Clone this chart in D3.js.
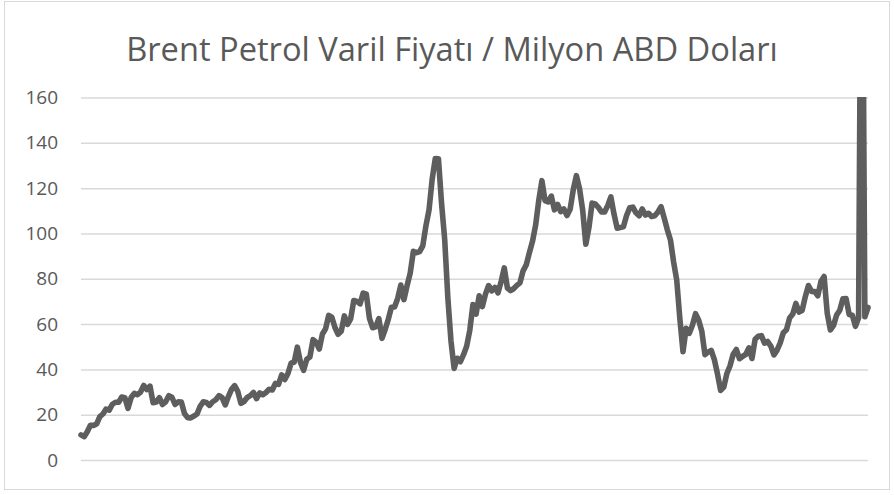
<!DOCTYPE html>
<html>
<head>
<meta charset="utf-8">
<script src="https://cdn.jsdelivr.net/npm/d3@7"></script>
<style>
  html, body { margin: 0; padding: 0; background: #fff; }
  svg { display: block; }
</style>
</head>
<body>
<svg id="chart" width="894" height="495"></svg>
<script>
// data: monthly Brent, Jan 1999 - Dec 2019 (one bad value in Oct 2019, off the scale)
const startYear = 1999;
const brent = [
  11.1, 10.3, 12.5, 15.3, 15.3, 15.9, 19.1, 20.3, 22.5, 22.0, 24.6, 25.5,   // 1999
  25.5, 27.8, 27.5, 22.8, 27.6, 29.4, 28.8, 30.0, 32.9, 31.1, 32.6, 25.3,   // 2000
  25.6, 27.5, 24.5, 25.7, 28.4, 27.7, 24.5, 25.7, 25.6, 20.5, 18.7, 18.6,   // 2001
  19.4, 20.3, 23.7, 25.7, 25.4, 24.1, 25.7, 26.6, 28.4, 27.5, 24.3, 28.0,   // 2002
  31.2, 32.8, 30.3, 25.0, 25.8, 27.6, 28.4, 29.8, 27.1, 29.6, 28.8, 29.8,   // 2003
  31.2, 30.9, 33.8, 33.4, 37.6, 35.5, 38.2, 42.7, 43.2, 49.8, 43.1, 39.6,   // 2004
  44.5, 45.5, 53.1, 51.9, 49.0, 55.6, 57.9, 63.8, 63.0, 58.5, 55.5, 56.8,   // 2005
  63.6, 59.9, 62.3, 70.4, 70.0, 68.9, 73.7, 73.2, 62.5, 58.4, 58.8, 62.4,   // 2006
  53.7, 57.6, 62.1, 67.4, 67.5, 71.3, 77.2, 70.8, 77.0, 82.5, 92.1, 91.5,   // 2007
  92.0, 94.5, 103.3, 110.4, 123.9, 133.1, 133.0, 113.2, 97.2, 71.6, 52.5, 40.4, // 2008
  44.9, 43.4, 46.5, 50.2, 57.3, 68.6, 64.4, 72.5, 67.7, 73.2, 77.0, 74.7,   // 2009
  76.2, 73.8, 78.8, 84.8, 75.9, 74.8, 75.6, 77.1, 78.2, 83.5, 86.1, 91.5,   // 2010
  96.5, 103.7, 114.6, 123.3, 114.5, 113.9, 116.5, 110.4, 112.8, 109.6, 110.8, 107.9, // 2011
  110.7, 119.3, 125.5, 119.8, 110.3, 95.2, 102.6, 113.4, 113.0, 111.5, 109.5, 109.5, // 2012
  112.3, 116.1, 108.5, 102.3, 102.6, 102.9, 107.9, 111.3, 111.6, 109.1, 107.8, 110.8, // 2013
  108.1, 108.9, 107.5, 107.8, 109.5, 111.8, 106.8, 101.6, 97.1, 87.4, 79.4, 62.3,  // 2014
  47.8, 58.1, 55.9, 59.5, 64.6, 61.7, 56.8, 46.5, 47.6, 48.4, 44.3, 38.0,   // 2015
  30.7, 32.2, 38.2, 41.6, 46.7, 48.8, 44.7, 45.7, 46.6, 49.5, 44.8, 53.3,   // 2016
  54.6, 54.9, 51.6, 52.3, 50.3, 46.4, 48.5, 51.7, 56.2, 57.5, 62.7, 64.4,   // 2017
  69.1, 65.3, 66.0, 72.1, 77.0, 74.4, 74.3, 72.5, 78.9, 81.0, 64.8, 57.4,   // 2018
  59.4, 64.0, 66.1, 71.2, 71.3, 64.2, 63.9, 59.0, 62.8, 300, 63.2, 67.3     // 2019
];
const yTicks = [0, 20, 40, 60, 80, 100, 120, 140, 160];
const title = "Brent Petrol Varil Fiyatı / Milyon ABD Doları";

// ayarlar
const plotLeft = 81, plotRight = 868, plotTop = 97.5, plotBottom = 460;
const ink = "#595959";

const svg = d3.select("#chart");

// çerçeve
svg.append("rect")
    .attr("x", 4.5).attr("y", 1.5)
    .attr("width", 885).attr("height", 488)
    .attr("fill", "#fff")
    .attr("stroke", "#d9d9d9")
    .attr("stroke-width", 1);

// ölçekler
const x = d3.scaleLinear()
    .domain([0, brent.length - 1])
    .range([plotLeft, plotRight]);

const y = d3.scaleLinear()
    .domain([0, 160])
    .range([plotBottom, plotTop]);

// başlık
const t = svg.append("text")
    .attr("x", 452)
    .attr("y", 61)
    .attr("text-anchor", "middle")
    .attr("font-family", "'Open Sans', 'Noto Sans', sans-serif")
    .attr("font-weight", 400)
    .attr("font-size", 28)
    .attr("fill", ink)
    .text(title);
const tw = t.node().getComputedTextLength();
t.attr("font-size", 28 * 652 / tw);

// Y ekseni (ızgara + etiketler)
const yAxis = svg.append("g")
    .attr("transform", "translate(" + plotLeft + ",0)")
    .call(d3.axisLeft(y).tickValues(yTicks).tickSize(-(plotRight - plotLeft)).tickPadding(23));
yAxis.select(".domain").remove();
yAxis.selectAll(".tick line")
    .attr("stroke", "#d9d9d9")
    .attr("stroke-width", 1.5);
yAxis.selectAll(".tick text")
    .attr("fill", ink)
    .attr("font-family", "'Open Sans', 'Noto Sans', sans-serif")
    .attr("font-size", 19);

// kırpma
svg.append("clipPath").attr("id", "plot")
    .append("rect")
    .attr("x", 0).attr("y", plotTop - 0.5)
    .attr("width", 894).attr("height", 495 - plotTop);

// çizgi
const line = d3.line()
    .x(function (d, i) { return x(i); })
    .y(function (d) { return y(d); });

svg.append("path")
    .datum(brent)
    .attr("clip-path", "url(#plot)")
    .attr("fill", "none")
    .attr("stroke", "#5e5e5e")
    .attr("stroke-width", 5.6)
    .attr("stroke-linejoin", "round")
    .attr("stroke-linecap", "round")
    .attr("d", line);
</script>
</body>
</html>
